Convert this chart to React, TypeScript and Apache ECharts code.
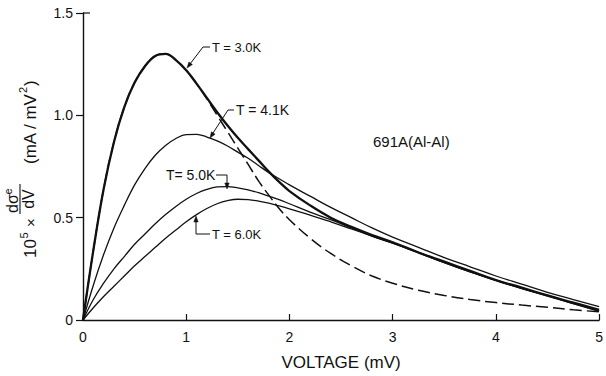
import React, { useEffect, useRef } from "react";
import * as echarts from "echarts";

// Voltage grid (mV)
const voltage = [0, 0.1, 0.2, 0.3, 0.4, 0.5, 0.6, 0.7, 0.8, 0.9, 1.0, 1.1, 1.2, 1.3, 1.4, 1.5, 1.6, 1.7, 1.8, 1.9, 2.0, 2.2, 2.4, 2.6, 2.8, 3.0, 3.25, 3.5, 3.75, 4.0, 4.25, 4.5, 4.75, 5.0];

// dashed curve (theory, T = 3.0 K)
const theory30 = [0, 0.34, 0.64, 0.87, 1.04, 1.16, 1.24, 1.29, 1.3, 1.27, 1.22, 1.155, 1.08, 1.0, 0.92, 0.84, 0.76, 0.68, 0.61, 0.545, 0.49, 0.40, 0.325, 0.265, 0.215, 0.18, 0.145, 0.12, 0.1, 0.085, 0.073, 0.062, 0.05, 0.04];
// measured curves
const t30 = [0, 0.34, 0.64, 0.87, 1.04, 1.16, 1.24, 1.29, 1.3, 1.27, 1.22, 1.155, 1.085, 1.015, 0.95, 0.89, 0.835, 0.78, 0.725, 0.675, 0.63, 0.56, 0.5, 0.455, 0.415, 0.38, 0.33, 0.285, 0.24, 0.195, 0.158, 0.12, 0.085, 0.05];
const t41 = [0, 0.17, 0.32, 0.45, 0.56, 0.66, 0.74, 0.805, 0.853, 0.887, 0.906, 0.907, 0.894, 0.875, 0.85, 0.82, 0.79, 0.755, 0.72, 0.69, 0.66, 0.605, 0.55, 0.5, 0.45, 0.405, 0.355, 0.305, 0.26, 0.215, 0.175, 0.135, 0.1, 0.065];
const t50 = [0, 0.1, 0.18, 0.25, 0.31, 0.37, 0.42, 0.47, 0.515, 0.555, 0.59, 0.618, 0.638, 0.65, 0.652, 0.646, 0.636, 0.622, 0.605, 0.588, 0.568, 0.527, 0.49, 0.45, 0.41, 0.375, 0.33, 0.28, 0.235, 0.195, 0.155, 0.12, 0.08, 0.045];
const t60 = [0, 0.06, 0.115, 0.165, 0.215, 0.265, 0.31, 0.355, 0.4, 0.44, 0.48, 0.515, 0.545, 0.568, 0.583, 0.59, 0.588, 0.581, 0.571, 0.558, 0.543, 0.513, 0.48, 0.445, 0.41, 0.375, 0.328, 0.28, 0.235, 0.193, 0.153, 0.117, 0.08, 0.042];

const xTicks = ["0", "1", "2", "3", "4", "5"];
const yTicks: Record<string, string> = { "0": "0", "0.5": "0.5", "1": "1.0", "1.5": "1.5" };

const FONT = '"Liberation Sans", Arial, sans-serif';
const INK = "#111";

const pairs = (ys: number[]) => voltage.map((v, i) => [v, ys[i]]);

function txt(text: string, x: number, y: number, size: number, align = "left", extra: any = {}) {
  return {
    type: "text",
    x,
    y,
    silent: true,
    style: {
      text,
      fill: INK,
      fontSize: size,
      fontFamily: FONT,
      font: `${size}px ${FONT}`,
      align,
      textAlign: align,
      verticalAlign: "middle",
      textVerticalAlign: "middle",
      ...extra,
    },
  };
}

function leader(points: number[][]) {
  return {
    type: "polyline",
    silent: true,
    shape: { points },
    style: { stroke: INK, lineWidth: 1, fill: null },
  };
}

function head(tip: number[], from: number[]) {
  const dx = tip[0] - from[0];
  const dy = tip[1] - from[1];
  const len = Math.sqrt(dx * dx + dy * dy) || 1;
  const ux = dx / len;
  const uy = dy / len;
  const L = 6;
  const W = 2.2;
  const bx = tip[0] - ux * L;
  const by = tip[1] - uy * L;
  return {
    type: "polygon",
    silent: true,
    shape: {
      points: [
        tip,
        [bx - uy * W, by + ux * W],
        [bx + uy * W, by - ux * W],
      ],
    },
    style: { fill: INK, stroke: INK, lineWidth: 0.5 },
  };
}

function yTitle() {
  return {
    type: "group",
    x: 36,
    y: 258,
    rotation: Math.PI / 2,
    silent: true,
    children: [
      txt("10", 0, -6, 17),
      txt("5", 19.5, -12.5, 11),
      txt("\u00d7", 31, -6, 15),
      txt("d\u03c3", 45, -24, 16),
      txt("e", 63.5, -28, 11),
      {
        type: "line",
        shape: { x1: 44, y1: -16, x2: 74, y2: -16 },
        style: { stroke: INK, lineWidth: 1.1 },
      },
      txt("dV", 59, -7.5, 16, "center"),
      txt("(mA / mV", 94, -6, 17),
      txt("2", 165, -13.5, 11),
      txt(")", 172, -6, 17),
    ],
  };
}

export default function App() {
  const ref = useRef<HTMLDivElement>(null);
  useEffect(() => {
    const chart = echarts.init(ref.current!, null, { renderer: "svg" });
    const lineBase = {
      type: "line",
      showSymbol: false,
      symbol: "none",
      smooth: 0.4,
      silent: true,
      z: 3,
    };
    chart.setOption({
      animation: false,
      backgroundColor: "#ffffff",
      grid: { left: 83, right: 1, top: 13, bottom: 51, containLabel: false },
      xAxis: {
        type: "value",
        min: 0,
        max: 5,
        interval: 1,
        name: "VOLTAGE (mV)",
        nameLocation: "middle",
        nameGap: 34,
        nameTextStyle: { fontFamily: FONT, fontSize: 17, color: INK },
        axisLine: { show: true, onZero: false, lineStyle: { color: INK, width: 1.4 } },
        axisTick: { show: true, inside: true, length: 6, lineStyle: { color: INK, width: 1.2 } },
        axisLabel: {
          fontFamily: FONT,
          fontSize: 14,
          color: INK,
          margin: 10,
          formatter: (v: number) => xTicks[Math.round(v)] ?? String(v),
        },
        splitLine: { show: false },
      },
      yAxis: {
        type: "value",
        min: 0,
        max: 1.5,
        interval: 0.5,
        axisLine: { show: true, onZero: false, lineStyle: { color: INK, width: 1.4 } },
        axisTick: { show: true, inside: false, length: 7, lineStyle: { color: INK, width: 1.2 } },
        axisLabel: {
          fontFamily: FONT,
          fontSize: 14,
          color: INK,
          margin: 10,
          formatter: (v: number) => yTicks[String(v)] ?? String(v),
        },
        splitLine: { show: false },
      },
      series: [
        {
          ...lineBase,
          name: "theory 3.0 K",
          data: pairs(theory30),
          lineStyle: { color: INK, width: 1.5, type: [12, 5] },
        },
        {
          ...lineBase,
          name: "T = 3.0K",
          data: pairs(t30),
          lineStyle: { color: INK, width: 2.3 },
        },
        {
          ...lineBase,
          name: "T = 4.1K",
          data: pairs(t41),
          lineStyle: { color: INK, width: 1.3 },
        },
        {
          ...lineBase,
          name: "T= 5.0K",
          data: pairs(t50),
          lineStyle: { color: INK, width: 1.3 },
        },
        {
          ...lineBase,
          name: "T = 6.0K",
          data: pairs(t60),
          lineStyle: { color: INK, width: 1.3 },
        },
      ],
      graphic: [
        {
          type: "line",
          silent: true,
          shape: { x1: 83, y1: 13, x2: 90, y2: 13 },
          style: { stroke: INK, lineWidth: 1.2 },
        },
        txt("T = 3.0K", 212, 47, 13),
        leader([[210, 47], [203, 47], [190, 64]]),
        head([187, 68], [203, 47]),
        txt("T = 4.1K", 236, 110, 14),
        leader([[234, 110], [228, 110], [213, 133]]),
        head([210, 138], [228, 110]),
        txt("T= 5.0K", 166, 175, 14),
        leader([[216, 175], [227, 175], [227, 184]]),
        head([227, 189], [227, 175]),
        txt("T = 6.0K", 212, 234, 13),
        leader([[210, 234], [196, 234], [196, 221]]),
        head([196, 216], [196, 234]),
        txt("691A(Al-Al)", 373, 141, 15),
        yTitle(),
      ],
    });
    return () => chart.dispose();
  }, []);
  return (
    <div
      ref={ref}
      style={{ position: "fixed", left: 0, top: 0, width: 606, height: 376 }}
    />
  );
}
